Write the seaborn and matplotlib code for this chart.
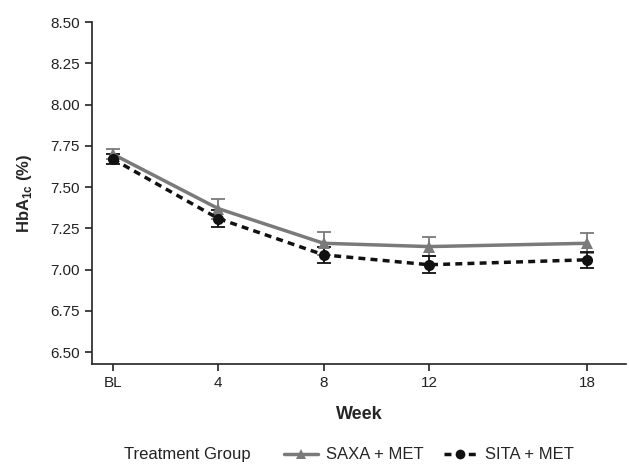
import matplotlib
matplotlib.use("Agg")
import matplotlib.pyplot as plt
import seaborn as sns
import pandas as pd
from matplotlib.lines import Line2D

weeks = [0, 4, 8, 12, 18]
week_labels = ["BL", "4", "8", "12", "18"]
saxa = [7.70, 7.37, 7.16, 7.14, 7.16]
saxa_se = [0.03, 0.06, 0.07, 0.06, 0.06]
sita = [7.67, 7.31, 7.09, 7.03, 7.06]
sita_se = [0.03, 0.05, 0.05, 0.05, 0.05]
groups = ["SAXA + MET", "SITA + MET"]

sns.set_theme(style="ticks")
plt.rcParams['font.family'] = ['Liberation Sans Narrow', 'Liberation Sans', 'DejaVu Sans']

df = pd.DataFrame({
    "Week": weeks * 2,
    "HbA1c": saxa + sita,
    "SE": saxa_se + sita_se,
    "Group": [groups[0]] * 5 + [groups[1]] * 5,
})

fig = plt.figure(figsize=(6.29, 4.70), dpi=100)
ax = fig.add_axes([0.146, 0.226, 0.85, 0.727])

colors = {groups[0]: "#7a7a7a", groups[1]: "#111111"}
markers = {groups[0]: "^", groups[1]: "o"}
dashes = {groups[0]: "", groups[1]: (2, 1.5)}

for g in groups:
    sub = df[df.Group == g]
    ax.errorbar(sub.Week, sub.HbA1c, yerr=sub.SE, fmt="none", ecolor=colors[g],
                elinewidth=1.3, capsize=5, capthick=1.3, zorder=2)

sns.lineplot(data=df, x="Week", y="HbA1c", hue="Group", style="Group",
             palette=colors, markers=markers, dashes=dashes, linewidth=2.5,
             markersize=8, markeredgewidth=0, ax=ax, legend=False, zorder=3)

ax.set_xlim(-0.8, 19.5)
ax.set_ylim(6.43, 8.5)
ax.set_xticks(weeks)
ax.set_xticklabels(week_labels)
yt = [6.50, 6.75, 7.00, 7.25, 7.50, 7.75, 8.00, 8.25, 8.50]
ax.set_yticks(yt)
ax.set_yticklabels([f"{v:.2f}" for v in yt])
ax.tick_params(axis="both", labelsize=11, colors="#222222", length=5, width=1.2)
ax.set_xlabel("Week", fontsize=13, fontweight="bold", labelpad=12)
ax.set_ylabel(r"HbA$_{\mathregular{1c}}$ (%)", fontsize=12, fontweight="bold", labelpad=12)
sns.despine(ax=ax, top=True, right=True)
for s in ["left", "bottom"]:
    ax.spines[s].set_linewidth(1.2)
    ax.spines[s].set_color("#222222")

fig.text(0.197, 0.032, "Treatment Group", fontsize=12, ha="left", va="center", color="#222222")
handles = [
    Line2D([], [], color=colors[groups[0]], marker="^", lw=2.5, markersize=7, markeredgewidth=0),
    Line2D([], [], color=colors[groups[1]], marker="o", lw=2.5, ls=(0, (2, 1.5)), markersize=7, markeredgewidth=0),
]
fig.legend(handles, groups, loc="center left", bbox_to_anchor=(0.452, 0.032), ncol=2,
           frameon=False, fontsize=12, handlelength=2.0, handletextpad=0.5, columnspacing=1.2,
           borderaxespad=0, borderpad=0)

fig.savefig("out.png", dpi=100)
